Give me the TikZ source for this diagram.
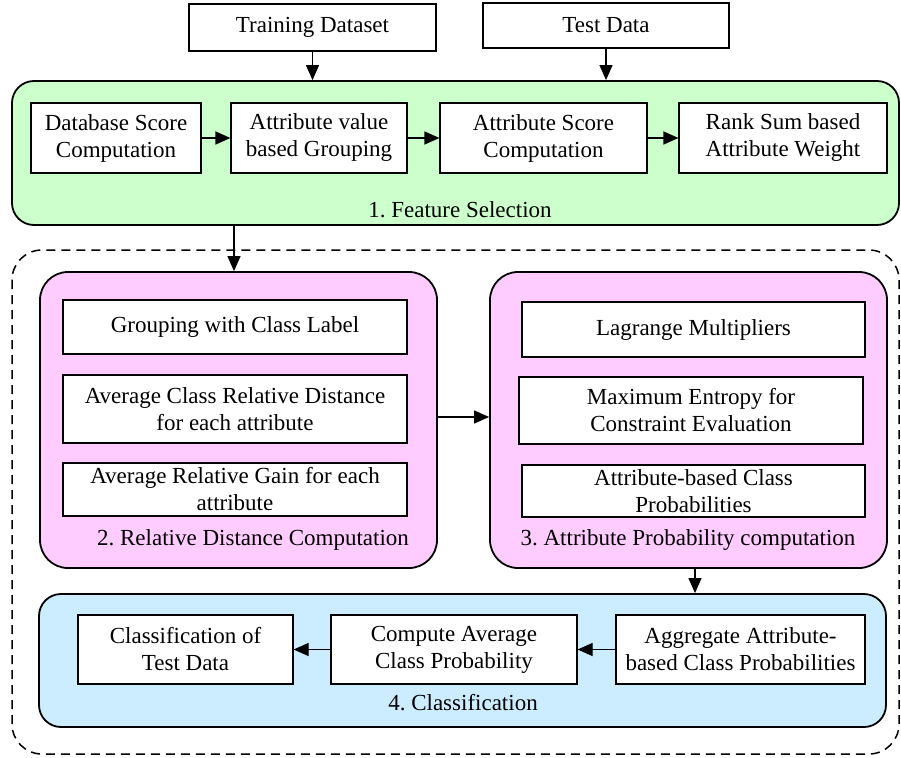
\documentclass[tikz,border=0pt]{standalone}
\usepackage{fontspec}
\setmainfont{Liberation Serif}
\newfontfamily\diafont{Liberation Serif}
\usetikzlibrary{arrows.meta}
\definecolor{selgreen}{RGB}{204,255,204}
\definecolor{relpink}{RGB}{255,204,255}
\definecolor{clsblue}{RGB}{204,236,255}
\frenchspacing

\begin{document}
\begin{tikzpicture}[x=1pt,y=-1pt,
  font=\diafont\fontsize{23}{27}\selectfont,
  stepbox/.style={draw,line width=1.2pt,fill=white,align=center,inner sep=0pt},
  panel/.style={draw,line width=1.8pt,rounded corners=22pt,inner sep=0pt},
  arr/.style={-{Triangle[length=15pt,width=13pt]},line width=1.2pt}]
\useasboundingbox (0,0) rectangle (901,757);

% inputs
\node[stepbox,minimum width=247pt,minimum height=47pt] (train) at (312.5,27.5) {Training Dataset};
\node[stepbox,minimum width=246pt,minimum height=45pt] (test) at (606,25.5) {Test Data};

% 1. feature selection
\node[panel,fill=selgreen,minimum width=887pt,minimum height=144pt] (fsel) at (455.5,153) {};
\node[stepbox,minimum width=170pt,minimum height=70pt] (dbs) at (116,138) {Database Score\\Computation};
\node[stepbox,minimum width=176pt,minimum height=70pt] (avg) at (319,138) {Attribute value\\based Grouping};
\node[stepbox,minimum width=207pt,minimum height=70pt] (ascore) at (543.5,138) {Attribute Score\\Computation};
\node[stepbox,minimum width=208pt,minimum height=70pt] (rank) at (783,138) {Rank Sum based\\Attribute Weight};
\node (lblsel) at (460,210) {1. Feature Selection};

% dashed frame round steps 2-4
\draw[line width=1.5pt,dash pattern=on 9pt off 6pt,rounded corners=30pt] (12,250) rectangle (899,754);

% 2. relative distance computation
\node[panel,fill=relpink,minimum width=397pt,minimum height=296pt,rounded corners=28pt] (rdc) at (238.5,420) {};
\node[stepbox,minimum width=344pt,minimum height=54pt] (gcl) at (235,327) {Grouping with Class Label};
\node[stepbox,minimum width=344pt,minimum height=68pt] (acrd) at (235,409) {Average Class Relative Distance\\for each attribute};
\node[stepbox,minimum width=344pt,minimum height=53pt] (arg) at (235,489.5) {Average Relative Gain for each\\attribute};
\node (lblrdc) at (253,540) {2. Relative Distance Computation};

% 3. attribute probability computation
\node[panel,fill=relpink,minimum width=397pt,minimum height=296pt,rounded corners=28pt] (apc) at (688.5,420) {};
\node[stepbox,minimum width=343pt,minimum height=55pt] (lag) at (693.5,329.5) {Lagrange Multipliers};
\node[stepbox,minimum width=344pt,minimum height=67pt] (mec) at (691,410.5) {Maximum Entropy for\\Constraint Evaluation};
\node[stepbox,minimum width=343pt,minimum height=52pt] (abcp) at (693.5,491) {Attribute-based Class\\Probabilities};
\node (lblapc) at (688,540) {3. Attribute Probability computation};

% 4. classification
\node[panel,fill=clsblue,minimum width=847pt,minimum height=133pt] (cls) at (462.5,660.5) {};
\node[stepbox,minimum width=215pt,minimum height=69pt] (ctd) at (185.5,649.5) {Classification of\\Test Data};
\node[stepbox,minimum width=246pt,minimum height=69pt] (cacp) at (454,649.5) {Compute Average\\Class Probability};
\node[stepbox,minimum width=249pt,minimum height=69pt] (aacp) at (740.5,649.5) {Aggregate Attribute-\\based Class Probabilities};
\node (lblcls) at (463,703) {4. Classification};

% connectors
\draw[arr] (train.south) -- (train.south |- fsel.north);
\draw[arr] (test.south) -- (test.south |- fsel.north);
\draw[arr] (dbs) -- (avg);
\draw[arr] (avg) -- (ascore);
\draw[arr] (ascore) -- (rank);
\draw[arr] ([xshift=-4.5pt]rdc.north |- fsel.south) -- ([xshift=-4.5pt]rdc.north);
\draw[arr] ([yshift=3pt]rdc.east) -- ([yshift=3pt]apc.west);
\draw[arr] ([xshift=6.5pt]apc.south) -- ([xshift=6.5pt]apc.south |- cls.north);
\draw[arr] (aacp) -- (cacp);
\draw[arr] (cacp) -- (ctd);
\end{tikzpicture}
\end{document}
